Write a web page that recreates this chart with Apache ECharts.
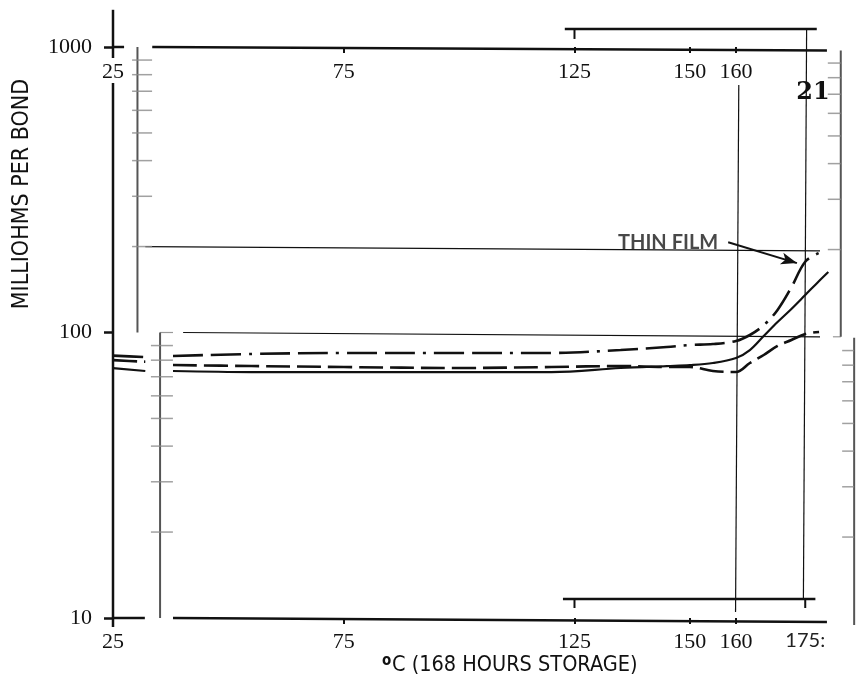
<!DOCTYPE html>
<html>
<head>
<meta charset="utf-8">
<script src="https://cdn.jsdelivr.net/npm/echarts@6/dist/echarts.min.js"></script>
<style>
  html, body { margin: 0; padding: 0; background: #fff; }
  #chart { width: 856px; height: 681px; }
</style>
</head>
<body>
<div id="chart"></div>
<script>
// Storage temperature (°C, 168 hours) against bond resistance (milliohms per bond)
const leftTemps = [25, 32];
const mainTemps = [38, 55, 75, 100, 120, 135, 145, 150, 155, 160, 163, 166, 169, 172, 175, 178];
const solidTemps = [38, 55, 75, 100, 120, 135, 145, 150, 155, 160, 163, 166, 169, 172, 175, 178, 180];

// thin film (dash-dot)
const thinFilmLeft = [83, 82];
const thinFilm = [82.7, 84.1, 84.8, 84.8, 84.8, 86.8, 89, 90.4, 91.1, 93.4, 98, 106, 120, 144, 177, 190];
// dashed curve
const dashedLeft = [80, 79];
const dashed = [76.9, 76.3, 75.7, 75.1, 75.7, 76.3, 75.7, 75.7, 73.3, 72.7, 78.2, 83.4, 89.7, 94.1, 98.8, 100.4];
// solid curve
const solidLeft = [75, 73.3];
const solid = [73.3, 72.7, 72.7, 72.7, 72.7, 75.1, 76.3, 76.9, 78.2, 81.4, 86.8, 97.2, 108.8, 120.9, 135.3, 151.5, 162.9];

// axis labelling
const xTopLabels = [25, 75, 125, 150, 160];
const xBottomLabels = [25, 75, 125, 150, 160, 175];
const xTopTicks = [75, 125, 150, 160];
const xBottomTicks = [75, 125, 150, 160];
const yLabels = [10, 100, 1000];
const upperScaleTicks = [200, 300, 400, 500, 600, 700, 800, 900];
const lowerScaleTicks = [20, 30, 40, 50, 60, 70, 80, 90];

const INK = '#111';

function pairs(xs, ys) { return xs.map((x, i) => [x, ys[i]]); }
function broken(lx, ly, mx, my) {
  return pairs(lx, ly).concat([[35, '-']]).concat(pairs(mx, my));
}

// straight guide segments of the printed graph paper, in data space
function seg(points, width, color) {
  return {
    type: 'line', data: points, symbol: 'none', silent: true, clip: false,
    smooth: false, z: 1,
    lineStyle: { color: color || INK, width: width, type: 'solid' }
  };
}
function tickMarks(xPos, values, size, offsetY, color) {
  return {
    type: 'scatter', silent: true, clip: false, z: 1,
    symbol: 'rect', symbolSize: size, symbolOffset: [0, offsetY],
    data: values.map(v => [xPos, v]),
    itemStyle: { color: color || '#8a8a8a' }
  };
}

const guides = [
  // main left axis, broken around the upper "25"
  seg([[25, 1350], [25, 915]], 2.5),
  seg([[25, 748], [25, 9.3]], 2.5),
  // upper and lower rules
  seg([[25, 1000], [27.4, 1000]], 2.5),
  seg([[33.5, 1000], [179.7, 972]], 2.5),
  seg([[25, 10], [31.9, 10]], 2.5),
  seg([[38, 10], [179.7, 9.68]], 2.5),
  // brackets spanning 125–175
  seg([[122.9, 1156], [177.5, 1156]], 2.5),
  seg([[125, 1156], [125, 1067]], 2),
  seg([[122.5, 11.65], [177.2, 11.65]], 2.5),
  seg([[125, 11.65], [125, 10.84]], 2),
  seg([[175, 11.65], [175, 10.84]], 2),
  // reference verticals at 160 and 175
  seg([[160.6, 736], [159.9, 10.49]], 1.2),
  seg([[175.3, 1156], [174.6, 11.65]], 1.2),
  // reference horizontals at 200 and 100
  seg([[32, 200], [178.2, 193]], 1.2),
  seg([[35.2, 100], [38, 100]], 1.2, '#999'),
  seg([[40.2, 100], [178.2, 96.6]], 1.2),
  seg([[181, 96.6], [182.7, 96.6]], 1.2, '#999'),
  // secondary log scales
  seg([[30.3, 1000], [30.3, 100]], 2, '#555'),
  seg([[35.2, 100], [35.2, 10]], 2, '#555'),
  seg([[182.7, 972], [182.7, 96.6]], 2, '#555'),
  seg([[185.6, 95.8], [185.6, 9.45]], 2, '#555'),
  tickMarks(31.3, upperScaleTicks, [20, 1.5], 0),
  tickMarks(35.6, lowerScaleTicks, [22, 1.5], 0),
  tickMarks(181.3, upperScaleTicks, [13, 1.5], 3),
  tickMarks(184.3, lowerScaleTicks, [12, 1.5], 5)
];

const curves = [
  {
    name: 'thin film', type: 'line', z: 3, symbol: 'none', smooth: 0.35, connectNulls: false,
    data: broken(leftTemps, thinFilmLeft, mainTemps, thinFilm),
    lineStyle: { color: INK, width: 2.6, type: [30, 8, 30, 8, 3, 8] },
    markLine: {
      silent: true, symbol: ['none', 'arrow'], symbolSize: [9, 16], animation: false,
      label: { show: false },
      lineStyle: { color: INK, width: 2, type: 'solid' },
      data: [[{ coord: [158.3, 207] }, { coord: [173.2, 175] }]]
    }
  },
  {
    name: 'dashed', type: 'line', z: 3, symbol: 'none', smooth: 0.35, connectNulls: false,
    data: broken(leftTemps, dashedLeft, mainTemps, dashed),
    lineStyle: { color: INK, width: 2.6, type: [24, 7] }
  },
  {
    name: 'solid', type: 'line', z: 3, symbol: 'none', smooth: 0.35, connectNulls: false,
    data: broken(leftTemps, solidLeft, solidTemps, solid),
    lineStyle: { color: INK, width: 2.2, type: 'solid' }
  },
  {
    name: 'annotation', type: 'scatter', z: 4, silent: true, symbolSize: 0,
    data: [[158.3, 207]],
    label: {
      show: true, position: 'left', distance: 10, formatter: 'THIN FILM',
      fontFamily: 'Lato', fontSize: 20, fontWeight: 'bold', color: '#1a1a1a'
    }
  }
];

const labelFont = { fontFamily: 'Liberation Serif', fontSize: 22, color: INK };

const option = {
  animation: false,
  backgroundColor: '#fff',
  grid: { left: 113, right: 0, top: 47, bottom: 63 },
  xAxis: [
    {
      type: 'value', min: 25, max: 186, position: 'bottom',
      axisLine: { show: false }, splitLine: { show: false },
      axisTick: { show: true, customValues: xBottomTicks, length: 6, lineStyle: { color: INK, width: 2 } },
      axisLabel: Object.assign({
        customValues: xBottomLabels, margin: 13,
        formatter: v => (v === 175 ? '{b|175:}' : String(v)),
        rich: { b: { fontFamily: 'Lato', fontSize: 20, color: '#222' } }
      }, labelFont)
    },
    {
      type: 'value', min: 25, max: 186, position: 'top',
      axisLine: { show: false }, splitLine: { show: false },
      axisTick: { show: true, inside: true, customValues: xTopTicks, length: 6, lineStyle: { color: INK, width: 2 } },
      axisLabel: Object.assign({ customValues: xTopLabels, inside: true, margin: 14, formatter: v => String(v) }, labelFont)
    }
  ],
  yAxis: {
    type: 'log', logBase: 10, min: 10, max: 1000,
    axisLine: { show: false }, splitLine: { show: false }, minorTick: { show: false },
    axisTick: { show: true, customValues: yLabels, length: 9, lineStyle: { color: INK, width: 2.5 } },
    axisLabel: Object.assign({ customValues: yLabels, margin: 21, formatter: v => String(Math.round(v)) }, labelFont)
  },
  graphic: [
    {
      type: 'text', x: 22, y: 194, rotation: Math.PI / 2,
      style: {
        text: 'MILLIOHMS PER BOND', fontFamily: 'DejaVu Sans Condensed', fontSize: 23,
        fill: INK, align: 'center', verticalAlign: 'middle'
      }
    },
    {
      type: 'text', x: 382, y: 661,
      style: { text: 'o', fontFamily: 'DejaVu Sans Condensed', fontSize: 15, fontWeight: 'bold', fill: INK, align: 'left', verticalAlign: 'middle' }
    },
    {
      type: 'text', x: 392, y: 665,
      style: { text: 'C (168 HOURS STORAGE)', fontFamily: 'DejaVu Sans Condensed', fontSize: 21.5, fill: INK, align: 'left', verticalAlign: 'middle' }
    },
    {
      type: 'text', x: 813, y: 93,
      style: { text: '21', fontFamily: 'DejaVu Serif', fontSize: 24, fontWeight: 'bold', fill: INK, align: 'center', verticalAlign: 'middle' }
    }
  ],
  series: guides.concat(curves)
};

const chart = echarts.init(document.getElementById('chart'), null, { renderer: 'canvas' });
chart.setOption(option);
</script>
</body>
</html>
